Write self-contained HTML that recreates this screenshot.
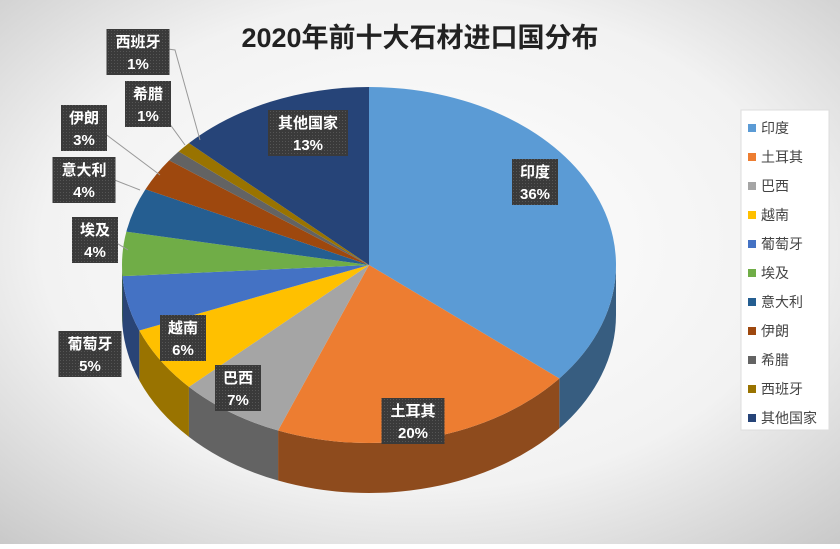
<!DOCTYPE html>
<html><head><meta charset="utf-8"><style>
body{margin:0;width:840px;height:544px;overflow:hidden;font-family:"Liberation Sans","Noto Sans CJK SC",sans-serif}
</style></head><body>
<svg id="s" width="840" height="544" xmlns="http://www.w3.org/2000/svg">
<defs>
<radialGradient id="bg" cx="50%" cy="45%" r="75%"><stop offset="0" stop-color="#ffffff"/><stop offset="0.6" stop-color="#f2f2f2"/><stop offset="1" stop-color="#c8c8c8"/></radialGradient>
<pattern id="tx" width="3" height="3" patternUnits="userSpaceOnUse"><rect width="3" height="3" fill="#3a3a3a"/><rect width="1" height="1" fill="#555"/></pattern>
</defs>
<rect width="840" height="544" fill="url(#bg)"/>
<text x="420" y="47" text-anchor="middle" font-size="27" font-weight="bold" fill="#222" font-family="Liberation Sans,Noto Sans CJK SC,sans-serif">2020年前十大石材进口国分布</text>
<g id="pie"></g>
<g id="lab"></g>
<rect x="741" y="110" width="88" height="320" fill="#fff" stroke="#ddd"/>
<g id="leg" font-size="14" fill="#444"></g>
</svg>
<script>
var d=[["印度",36,"#5B9BD5"],["土耳其",20,"#ED7D31"],["巴西",7,"#A5A5A5"],["越南",6,"#FFC000"],["葡萄牙",5,"#4472C4"],["埃及",4,"#70AD47"],["意大利",4,"#255E91"],["伊朗",3,"#9E480E"],["希腊",1,"#636363"],["西班牙",1,"#997300"],["其他国家",13,"#264478"]];
var cx=369,cy=265,rx=247,ry=178,dp=50,ns="http://www.w3.org/2000/svg";
function P(a,dy){a=a*Math.PI/180;return [cx+rx*Math.sin(a),cy-ry*Math.cos(a)+(dy||0)];}
function dark(c,f){var n=parseInt(c.slice(1),16);return "rgb("+[(n>>16)&255,(n>>8)&255,n&255].map(v=>Math.round(v*f)).join(",")+")";}
function el(t,at,p){var e=document.createElementNS(ns,t);for(var k in at)e.setAttribute(k,at[k]);p.appendChild(e);return e;}
var g=document.getElementById("pie"),a=0,sl=[];
d.forEach(x=>{var b=a+x[1]*3.6;sl.push([a,b,x[2]]);a=b;});
// sides
sl.forEach(s=>{var a1=Math.max(s[0],90),a2=Math.min(s[1],270);if(a2<=a1)return;
var p1=P(a1),p2=P(a2),q2=P(a2,dp),q1=P(a1,dp);
el("path",{d:"M"+p1+" A"+rx+" "+ry+" 0 0 1 "+p2+" L"+q2+" A"+rx+" "+ry+" 0 0 0 "+q1+"Z",fill:dark(s[2],0.6)},g);});
sl.forEach(s=>{var p1=P(s[0]),p2=P(s[1]),l=(s[1]-s[0])>180?1:0;
el("path",{d:"M"+cx+","+cy+" L"+p1+" A"+rx+" "+ry+" 0 "+l+" 1 "+p2+"Z",fill:s[2]},g);});
var L=document.getElementById("lab");
var lines=[[[95,230],[128,250]],[[84,168],[140,190]],[[84,118],[160,175]],[[148,94],[185,145]],[[138,45],[175,50],[200,140]]];
lines.forEach(p=>el("polyline",{points:p.join(" "),fill:"none",stroke:"#999","stroke-width":1},L));
var lb=[["印度","36%",535,182],["土耳其","20%",413,421],["巴西","7%",238,388],["越南","6%",183,338],["葡萄牙","5%",90,354],["埃及","4%",95,240],["意大利","4%",84,180],["伊朗","3%",84,128],["希腊","1%",148,104],["西班牙","1%",138,52],["其他国家","13%",308,133]];
lb.forEach(x=>{var w=x[0].length*17+12;el("rect",{x:x[2]-w/2,y:x[3]-23,width:w,height:46,fill:"url(#tx)"},L);
var t=el("text",{x:x[2],y:x[3]-5,"text-anchor":"middle","font-size":"15","font-weight":"bold",fill:"#fff"},L);t.textContent=x[0];
t=el("text",{x:x[2],y:x[3]+17,"text-anchor":"middle","font-size":"15","font-weight":"bold",fill:"#fff"},L);t.textContent=x[1];});
var lg=document.getElementById("leg");
d.forEach((x,i)=>{var y=128+i*29;el("rect",{x:748,y:y-4,width:8,height:8,fill:x[2]},lg);var t=el("text",{x:761,y:y+5},lg);t.textContent=x[0];});
</script>
</body></html>
